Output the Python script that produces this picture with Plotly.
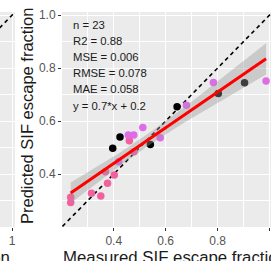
import numpy as np
import plotly.graph_objects as go

# ---- data ----
pink_x = [0.234, 0.234, 0.314, 0.350, 0.376, 0.402, 0.460, 0.368, 0.478]
pink_y = [0.312, 0.293, 0.327, 0.317, 0.365, 0.396, 0.526, 0.409, 0.484]
violet_x = [0.456, 0.477, 0.512, 0.579, 0.680, 0.784, 0.987, 0.419]
violet_y = [0.547, 0.547, 0.576, 0.537, 0.660, 0.746, 0.751, 0.446]
black_x = [0.396, 0.424, 0.541, 0.644, 0.803, 0.904]
black_y = [0.497, 0.540, 0.512, 0.654, 0.704, 0.745]

stats_lines = ["n = 23", "R2 = 0.88", "MSE = 0.006", "RMSE = 0.078",
               "MAE = 0.058", "y = 0.7*x + 0.2"]
identity_line = [0.0, 1.2]
x_ticks = [0.4, 0.6, 0.8, 1.0]
x_ticklabels = ["0.4", "0.6", "0.8", "1.0"]
y_ticks = [0.4, 0.6, 0.8, 1.0]
y_ticklabels = ["0.4", "0.6", "0.8", "1.0"]
left_ticks = [1.0]
left_ticklabels = ["1"]
x_title = "Measured SIF escape fraction"
y_title = "Predicted SIF escape fraction"
T_CRIT = 2.080  # t(0.975, df=21)

# ---- linear fit + 95% confidence band ----
ax = np.array(pink_x + violet_x + black_x)
ay = np.array(pink_y + violet_y + black_y)
n = len(ax)
slope, intercept = np.polyfit(ax, ay, 1)
resid = ay - (slope * ax + intercept)
s = np.sqrt(np.sum(resid ** 2) / (n - 2))
xbar = ax.mean()
sxx = np.sum((ax - xbar) ** 2)
xf = np.linspace(ax.min(), ax.max(), 80)
yf = slope * xf + intercept
se = s * np.sqrt(1.0 / n + (xf - xbar) ** 2 / sxx)
lo = yf - T_CRIT * se
hi = yf + T_CRIT * se

W, H = 271, 261
ML, MR, MT, MB = 0, 0, 12, 34
PW, PH = W - ML - MR, H - MT - MB
def px(x):
    return x / PW
def py(y):
    return (H - MB - y) / PH

fig = go.Figure()
fig.add_trace(go.Scatter(x=identity_line, y=identity_line, mode="lines",
                         line=dict(color="black", width=1.6, dash="4px,3.5px"),
                         hoverinfo="skip", showlegend=False))
fig.add_trace(go.Scatter(x=pink_x, y=pink_y, mode="markers",
                         marker=dict(color="#F2609F", size=7.5), showlegend=False))
fig.add_trace(go.Scatter(x=violet_x, y=violet_y, mode="markers",
                         marker=dict(color="#DE6CE6", size=7.5), showlegend=False))
fig.add_trace(go.Scatter(x=black_x, y=black_y, mode="markers",
                         marker=dict(color="#000000", size=7.5), showlegend=False))
fig.add_trace(go.Scatter(x=np.concatenate([xf, xf[::-1]]), y=np.concatenate([hi, lo[::-1]]),
                         fill="toself", fillcolor="rgba(153,153,153,0.4)",
                         line=dict(width=0), mode="lines", hoverinfo="skip", showlegend=False))
fig.add_trace(go.Scatter(x=xf, y=yf, mode="lines", line=dict(color="#FF0000", width=3),
                         showlegend=False))

# left (partial) neighbouring panel
fig.add_trace(go.Scatter(x=identity_line, y=identity_line, mode="lines", xaxis="x2", yaxis="y2",
                         line=dict(color="black", width=1.6, dash="4px,3.5px"),
                         hoverinfo="skip", showlegend=False))

grid = dict(showgrid=True, gridcolor="white", gridwidth=1.1, zeroline=False,
            ticks="outside", ticklen=3, tickcolor="#333333", tickwidth=1,
            tickfont=dict(family="Liberation Sans, Arial", size=12, color="#555555"),
            showline=False, automargin=False)
minor = dict(dtick=0.1, tick0=0.1, showgrid=True, gridcolor="white", gridwidth=0.5, ticks="")

fig.update_layout(
    width=W, height=H, margin=dict(l=ML, r=MR, t=MT, b=MB, autoexpand=False),
    paper_bgcolor="white", plot_bgcolor="#EBEBEB",
    xaxis=dict(domain=[62 / W, 1], range=[0.2005, 1.006], tickvals=x_ticks,
               ticktext=x_ticklabels, minor=minor, anchor="y", **grid),
    yaxis=dict(domain=[0, 1], range=[0.2, 1.012], tickvals=y_ticks,
               ticktext=y_ticklabels, minor=minor, anchor="x", **grid),
    xaxis2=dict(domain=[0, 15 / W], range=[0.9534, 1.0113], tickvals=left_ticks,
                ticktext=left_ticklabels, anchor="y2", **grid),
    yaxis2=dict(domain=[0, 1], range=[0.2, 1.012], tickvals=y_ticks, minor=minor,
                anchor="x2", showticklabels=False, showgrid=True, gridcolor="white",
                gridwidth=1.1, zeroline=False, ticks="", automargin=False),
    font=dict(family="Liberation Sans, Arial"),
)

ann = []
for i, t in enumerate(stats_lines):
    ann.append(dict(x=px(71), y=py(25 + 16.1 * i), xref="paper", yref="paper", text=t,
                    showarrow=False, xanchor="left", yanchor="middle",
                    font=dict(family="Liberation Sans, Arial", size=11.3, color="#1a1a1a")))
ann.append(dict(x=px(27), y=py(116), xref="paper", yref="paper", text=y_title, textangle=-90,
                showarrow=False, xanchor="center", yanchor="middle",
                font=dict(family="Liberation Sans, Arial", size=16.5, color="#1a1a1a")))
ann.append(dict(x=px(61), y=py(257), xref="paper", yref="paper", text=x_title,
                showarrow=False, xanchor="left", yanchor="middle",
                font=dict(family="Liberation Sans, Arial", size=16.8, color="#1a1a1a")))
ann.append(dict(x=px(12), y=py(257), xref="paper", yref="paper", text=x_title,
                showarrow=False, xanchor="right", yanchor="middle",
                font=dict(family="Liberation Sans, Arial", size=16.8, color="#1a1a1a")))
fig.update_layout(annotations=ann)

fig.write_html("out.html", config={"displayModeBar": False},
               post_script="document.body.style.margin='0';document.body.style.overflow='hidden';")
